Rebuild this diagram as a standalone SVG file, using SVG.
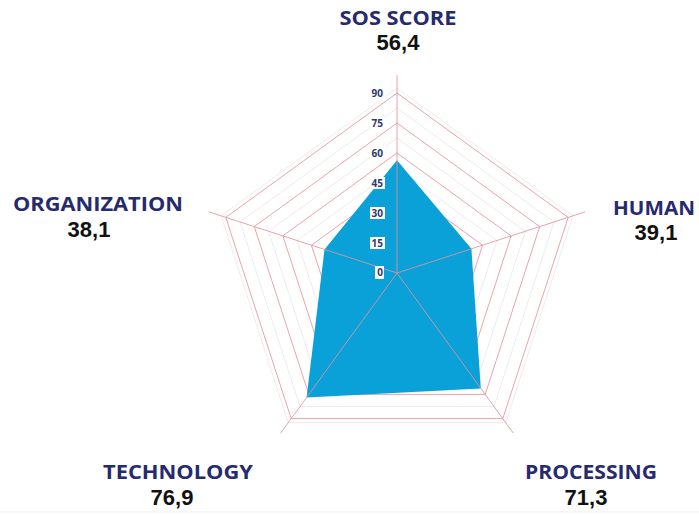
<svg xmlns="http://www.w3.org/2000/svg" width="699" height="516" viewBox="0 0 699 516">
<style>
.ring{fill:none;stroke:#eba3ab;stroke-width:1}
.shadow{fill:none;stroke:#ececec;stroke-width:1}
.spoke{stroke:#e2949d;stroke-width:1;opacity:0.85}
.tick{font-family:"Open Sans","Liberation Sans",sans-serif;font-weight:700;font-size:10px;fill:#2c3a6e;text-anchor:end}
.tbg{fill:#ffffff}
.title{font-family:"Open Sans","Liberation Sans",sans-serif;font-weight:700;font-size:19px;fill:#262a6e;text-anchor:middle}
.val{font-family:"Liberation Sans",Arial,sans-serif;font-weight:700;font-size:22px;fill:#111111;text-anchor:middle}
</style>
<rect width="699" height="516" fill="#ffffff"/>
<line x1="0" y1="512" x2="699" y2="512" stroke="#eeeeee" stroke-width="1"/>
<g id="grid" transform="translate(397,273)">
  <g class="shadow">
    <polygon points="0,-185 175.9,-57.2 108.7,149.7 -108.7,149.7 -175.9,-57.2"/>
    <polygon points="0,-165 156.9,-51 97,133.5 -97,133.5 -156.9,-51"/>
    <polygon points="0,-135 128.4,-41.7 79.4,109.2 -79.4,109.2 -128.4,-41.7"/>
    <polygon points="0,-105 99.9,-32.4 61.7,84.9 -61.7,84.9 -99.9,-32.4"/>
  </g>
  <g class="ring">
    <polygon points="0,-180 171.2,-55.6 105.8,145.6 -105.8,145.6 -171.2,-55.6"/>
    <polygon points="0,-150 142.7,-46.4 88.2,121.4 -88.2,121.4 -142.7,-46.4"/>
    <polygon points="0,-120 114.1,-37.1 70.5,97.1 -70.5,97.1 -114.1,-37.1"/>
    <polygon points="0,-90 85.6,-27.8 52.9,72.8 -52.9,72.8 -85.6,-27.8"/>
    <polygon points="0,-60 57.1,-18.5 35.3,48.5 -35.3,48.5 -57.1,-18.5"/>
    <polygon points="0,-30 28.5,-9.3 17.6,24.3 -17.6,24.3 -28.5,-9.3"/>
  </g>
</g>
<g id="data">
  <polygon points="397,160.2 471.4,248.8 480.8,388.4 306.6,397.4 324.5,249.5" fill="#0aa0d8"/>
</g>
<g id="connectors" transform="translate(397,273)">
  <line class="spoke" x1="0" y1="0" x2="0" y2="-198"/>
  <line class="spoke" x1="0" y1="0" x2="188.3" y2="-61.2"/>
  <line class="spoke" x1="0" y1="0" x2="116.4" y2="160.2"/>
  <line class="spoke" x1="0" y1="0" x2="-116.4" y2="160.2"/>
  <line class="spoke" x1="0" y1="0" x2="-188.3" y2="-61.2"/>
</g>
<g id="ticks">
  <rect class="tbg" x="370" y="87" width="15" height="12"/>
  <rect class="tbg" x="370" y="117" width="15" height="12"/>
  <rect class="tbg" x="370" y="147" width="15" height="12"/>
  <rect class="tbg" x="370" y="177" width="15" height="12"/>
  <rect class="tbg" x="370" y="207" width="15" height="12"/>
  <rect class="tbg" x="370" y="237" width="15" height="12"/>
  <rect class="tbg" x="375" y="266" width="9" height="13"/>
  <text class="tick" x="383" y="97">90</text>
  <text class="tick" x="383" y="127">75</text>
  <text class="tick" x="383" y="157">60</text>
  <text class="tick" x="383" y="187">45</text>
  <text class="tick" x="383" y="217">30</text>
  <text class="tick" x="383" y="247">15</text>
  <text class="tick" x="383" y="276">0</text>
</g>
<g id="sos">
  <text class="title" x="398" y="25" textLength="117" lengthAdjust="spacingAndGlyphs">SOS SCORE</text>
  <text class="val" x="398" y="50">56,4</text>
</g>
<g id="human">
  <text class="title" x="654" y="215" textLength="82" lengthAdjust="spacingAndGlyphs">HUMAN</text>
  <text class="val" x="656" y="240">39,1</text>
</g>
<g id="processing">
  <text class="title" x="591" y="479" textLength="132" lengthAdjust="spacingAndGlyphs">PROCESSING</text>
  <text class="val" x="586" y="505">71,3</text>
</g>
<g id="technology">
  <text class="title" x="178" y="479" textLength="150" lengthAdjust="spacingAndGlyphs">TECHNOLOGY</text>
  <text class="val" x="172" y="505">76,9</text>
</g>
<g id="organization">
  <text class="title" x="98" y="211" textLength="170" lengthAdjust="spacingAndGlyphs">ORGANIZATION</text>
  <text class="val" x="89" y="237">38,1</text>
</g>
</svg>
